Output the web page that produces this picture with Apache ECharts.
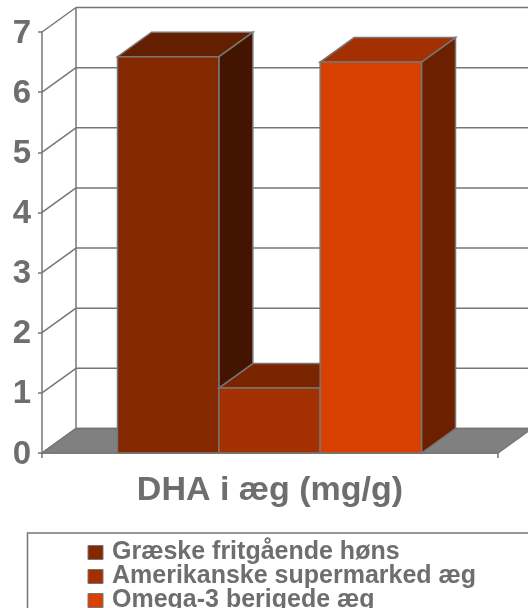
<!DOCTYPE html>
<html>
<head>
<meta charset="utf-8">
<style>html,body{margin:0;padding:0;background:#fff}#chart1{width:528px;height:608px}</style>
<script src="https://cdn.jsdelivr.net/npm/echarts@6/dist/echarts.min.js"></script>
</head>
<body>
<div id="chart1"></div>
<script>
const categories = ['DHA i æg (mg/g)'];
const seriesNames = ['Græske fritgående høns', 'Amerikanske supermarked æg', 'Omega-3 berigede æg'];
const seriesValues = [6.59, 1.08, 6.5];
const yTicks = [0, 1, 2, 3, 4, 5, 6, 7];

// front, top, side
const barColors = [
    ['#842800', '#641e00', '#431400'],
    ['#a33000', '#7a2400', '#511800'],
    ['#d74000', '#a33000', '#6c2000']
];
const lineColor = '#767676';
const textColor = '#6e6e6e';
const depthX = 34, depthY = -24.5;

function poly(points, fill) {
    return {
        type: 'polygon',
        shape: { points: points },
        style: { fill: fill, stroke: lineColor, lineWidth: 1.5 }
    };
}

function seg(a, b) {
    return {
        type: 'line',
        shape: { x1: a[0], y1: a[1], x2: b[0], y2: b[1] },
        style: { stroke: lineColor, lineWidth: 1.5 }
    };
}

function back(p) { return [p[0] + depthX, p[1] + depthY]; }

// walls and floor, one gridline per tick
function renderWall(params, api) {
    const tick = api.value(1);
    const rect = params.coordSys;
    const left = api.coord([0, tick]);
    const a = [rect.x, left[1]];
    const b = [rect.x + rect.width, left[1]];
    const children = [seg(a, back(a)), seg(back(a), back(b))];
    if (tick === 0) {
        const top = [rect.x, api.coord([0, yTicks[yTicks.length - 1]])[1]];
        children.unshift(poly([a, b, back(b), back(a)], '#808080'));
        children.push(seg(back(a), back(top)));
    }
    return { type: 'group', children: children };
}

// 3 boxes side by side, gap is 150% of a bar
function renderBox(params, api) {
    const band = params.coordSys.width / categories.length;
    const barW = band / 4.5;
    const center = api.coord([0, 0]);
    const x0 = center[0] - 1.5 * barW + (params.seriesIndex - 1) * barW - 0.5;
    const x1 = x0 + barW;
    const y0 = center[1];
    const y1 = api.coord([0, api.value(1)])[1];
    const c = barColors[params.seriesIndex - 1];
    const tl = [x0, y1], tr = [x1, y1], br = [x1, y0], bl = [x0, y0];
    return {
        type: 'group',
        children: [
            poly([tr, br, back(br), back(tr)], c[2]),
            poly([tl, tr, back(tr), back(tl)], c[1]),
            poly([tl, tr, br, bl], c[0])
        ]
    };
}

const chart = echarts.init(document.getElementById('chart1'), null, { renderer: 'canvas' });

const series = [{
    type: 'custom',
    name: 'wall',
    silent: true,
    renderItem: renderWall,
    data: yTicks.map(t => [0, t]),
    encode: { x: 0, y: 1 }
}];
seriesNames.forEach((name, i) => {
    series.push({
        type: 'custom',
        name: name,
        silent: true,
        itemStyle: { color: barColors[i][0] },
        renderItem: renderBox,
        data: [[0, seriesValues[i]]],
        encode: { x: 0, y: 1 }
    });
});

chart.setOption({
    animation: false,
    backgroundColor: '#fff',
    textStyle: { fontFamily: '"Liberation Sans", Arial, sans-serif' },
    grid: { left: 42, right: 30, top: 32, bottom: 155, containLabel: false },
    xAxis: {
        type: 'category',
        data: categories,
        axisLine: { lineStyle: { color: lineColor, width: 1.5 } },
        axisTick: { show: true, length: 5, lineStyle: { color: lineColor, width: 1.5 } },
        axisLabel: { color: textColor, fontWeight: 'bold', fontSize: 34, margin: 21 }
    },
    yAxis: {
        type: 'value',
        min: 0,
        max: 7,
        interval: 1,
        splitLine: { show: false },
        axisLine: { show: true, lineStyle: { color: lineColor, width: 1.5 } },
        axisTick: { show: true, length: 4, lineStyle: { color: lineColor, width: 1.5 } },
        axisLabel: { color: textColor, fontWeight: 'bold', fontSize: 33, margin: 11, verticalAlign: 'top', lineHeight: 3 }
    },
    legend: {
        data: seriesNames,
        orient: 'vertical',
        left: 27.5,
        top: 533,
        width: 600,
        height: 120,
        padding: [7, 300, 40, 60],
        itemGap: -1,
        itemWidth: 15,
        itemHeight: 14,
        icon: 'rect',
        selectedMode: false,
        borderColor: lineColor,
        borderWidth: 1.5,
        itemStyle: { borderColor: lineColor, borderWidth: 1 },
        textStyle: { color: textColor, fontWeight: 'bold', fontSize: 25, lineHeight: 23, padding: [0, 0, 0, 4] }
    },
    series: series
});
</script>
</body>
</html>
